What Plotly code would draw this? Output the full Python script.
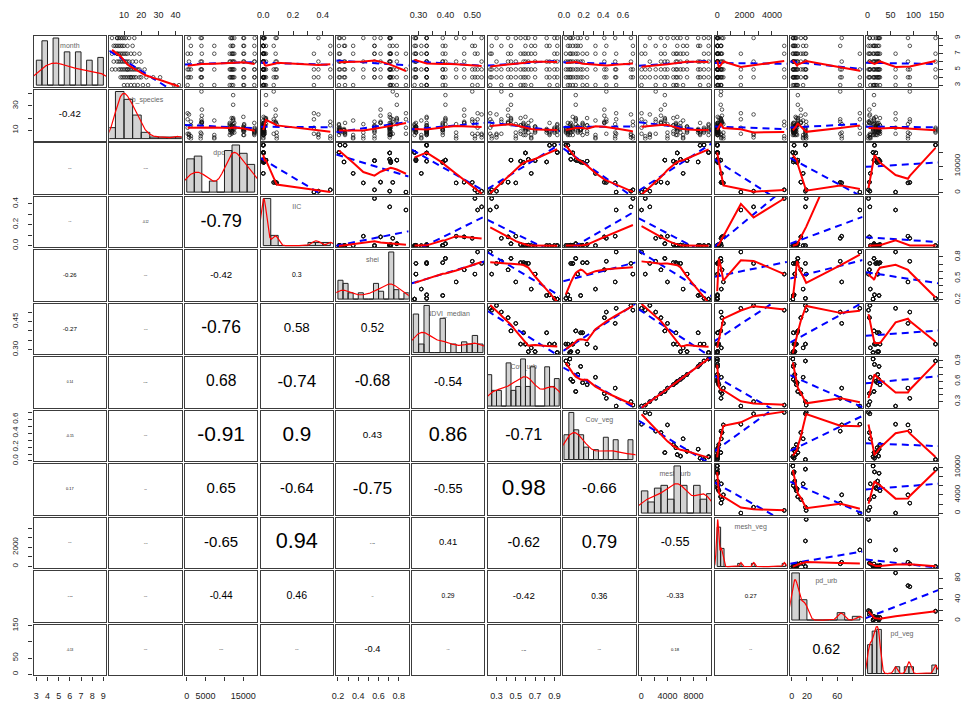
import numpy as np
import plotly.graph_objects as go

# ---------------- variables (panel order) ----------------
var_names = ["month", "nb_species", "dpop", "IIC", "shei", "NDVI_median",
             "Cov_urb", "Cov_veg", "mesh_urb", "mesh_veg", "pd_urb", "pd_veg"]

# ---------------- site descriptors (17 sites) ----------------
site_dpop = [18000, 17900, 15200, 15000, 12600, 12300, 12100, 11900, 11600,
             11400, 7300, 4000, 3900, 3700, 1100, 600, 240]
site_IIC = [0.0, 0.0, 0.0, 0.002, 0.004, 0.018, 0.0, 0.01, 0.0,
            0.003, 0.0, 0.083, 0.07, 0.09, 0.45, 0.37, 0.34]
site_shei = [0.22, 0.27, 0.21, 0.71, 0.71, 0.78, 0.56, 0.72, 0.26,
             0.72, 0.35, 0.62, 0.74, 0.45, 0.56, 0.71, 0.87]
site_NDVI = [0.33, 0.33, 0.285, 0.33, 0.29, 0.40, 0.29, 0.33, 0.39,
             0.39, 0.31, 0.47, 0.50, 0.44, 0.51, 0.535, 0.52]
site_cov_urb = [0.90, 0.85, 0.93, 0.60, 0.63, 0.45, 0.70, 0.55, 0.82,
                0.58, 0.66, 0.42, 0.35, 0.50, 0.25, 0.30, 0.235]
site_cov_veg = [0.02, 0.04, 0.06, 0.09, 0.07, 0.12, 0.14, 0.235, 0.17,
                0.19, 0.32, 0.41, 0.43, 0.52, 0.70, 0.68, 0.53]
site_mesh_urb = [9600, 9000, 10300, 5500, 6000, 3600, 7000, 4900, 8700,
                 5300, 6400, 3000, 2200, 4000, 600, 1300, 30]
site_mesh_veg = [0, 20, 5, 40, 30, 260, 15, 120, 25,
                 60, 300, 350, 280, 450, 4900, 2660, 1730]
site_pd_urb = [18, 3, 1.4, 5, 2, 8, 4, 6, 2,
               7, 15, 12, 64, 66, 19, 18, 90]
site_pd_veg = [148, 15, 12, 18, 24, 14, 22, 27, 25,
               21, 6, 4, 92, 88, 2, 5, 61]

# ---------------- observations: site id, month, species count ----------------
obs_site = [2, 3, 4, 6, 8, 10, 11, 13, 17,
            1, 2, 3, 4, 5, 6, 7, 8, 9, 10, 12, 13, 14, 15, 16, 17,
            1, 2, 3, 4, 5, 6, 7, 8, 9, 10, 11, 12, 13, 14, 15, 16, 17,
            1, 2, 3, 4, 5, 6, 7, 9, 10, 12, 14, 16,
            1, 3, 4, 5, 6, 7, 8, 10, 11, 12, 15, 17,
            2, 3, 4, 6, 7, 9, 11, 13, 15,
            1, 3, 4, 5, 7, 8, 9, 12, 14, 16]
obs_month = [3, 3, 3, 3, 3, 3, 3, 3, 3,
             4, 4, 4, 4, 4, 4, 4, 4, 4, 4, 4, 4, 4, 4, 4, 4,
             5, 5, 5, 5, 5, 5, 5, 5, 5, 5, 5, 5, 5, 5, 5, 5, 5,
             6, 6, 6, 6, 6, 6, 6, 6, 6, 6, 6, 6,
             7, 7, 7, 7, 7, 7, 7, 7, 7, 7, 7, 7,
             8, 8, 8, 8, 8, 8, 8, 8, 8,
             9, 9, 9, 9, 9, 9, 9, 9, 9, 9]
obs_nb = [16, 10, 21, 39, 14, 12, 18, 42, 24,
          11, 9, 14, 13, 16, 31, 12, 20, 10, 15, 27, 17, 8, 14, 23, 19,
          12, 8, 15, 10, 13, 18, 9, 14, 11, 16, 3, 22, 19, 5, 17, 7, 12,
          10, 7, 12, 9, 11, 20, 13, 8, 6, 17, 15, 4,
          8, 11, 6, 12, 19, 10, 9, 14, 6, 16, 3, 7,
          6, 9, 12, 15, 8, 10, 4, 7, 5,
          9, 6, 11, 8, 13, 7, 10, 16, 3, 6]

# ---------------- correlation labels (lower triangle, row by row) ----------------
cor_rows = [
    [],
    [-0.42],
    [0.07, -0.09],
    [0.06, -0.12, -0.79],
    [-0.26, 0.07, -0.42, 0.30],
    [-0.27, -0.10, -0.76, 0.58, 0.52],
    [0.14, 0.09, 0.68, -0.74, -0.68, -0.54],
    [-0.15, 0.07, -0.91, 0.90, 0.43, 0.86, -0.71],
    [0.17, 0.06, 0.65, -0.64, -0.75, -0.55, 0.98, -0.66],
    [0.07, -0.10, -0.65, 0.94, 0.11, 0.41, -0.62, 0.79, -0.55],
    [-0.11, 0.07, -0.44, 0.46, 0.02, 0.29, -0.42, 0.36, -0.33, 0.27],
    [-0.13, 0.07, 0.09, 0.07, -0.40, 0.06, 0.11, 0.07, 0.18, 0.06, 0.62],
]

# ---------------- axis ticks ----------------
tick_vals = {
    "month": [3, 4, 5, 6, 7, 8, 9],
    "nb_species": [10, 20, 30, 40],
    "dpop": [0, 5000, 10000, 15000],
    "IIC": [0.0, 0.1, 0.2, 0.3, 0.4],
    "shei": [0.2, 0.3, 0.4, 0.5, 0.6, 0.7, 0.8],
    "NDVI_median": [0.30, 0.35, 0.40, 0.45, 0.50, 0.55],
    "Cov_urb": [0.3, 0.4, 0.5, 0.6, 0.7, 0.8, 0.9],
    "Cov_veg": [0.0, 0.1, 0.2, 0.3, 0.4, 0.5, 0.6, 0.7],
    "mesh_urb": [0, 2000, 4000, 6000, 8000, 10000],
    "mesh_veg": [0, 1000, 2000, 3000, 4000],
    "pd_urb": [0, 20, 40, 60, 80],
    "pd_veg": [0, 50, 100, 150],
}
x_labels = {
    "month": [3, 4, 5, 6, 7, 8, 9], "nb_species": [10, 20, 30, 40],
    "dpop": [0, 5000, 15000], "IIC": [0.0, 0.2, 0.4],
    "shei": [0.2, 0.4, 0.6, 0.8], "NDVI_median": [0.30, 0.40, 0.50],
    "Cov_urb": [0.3, 0.5, 0.7, 0.9], "Cov_veg": [0.0, 0.2, 0.4, 0.6],
    "mesh_urb": [0, 4000, 8000], "mesh_veg": [0, 2000, 4000],
    "pd_urb": [0, 20, 60], "pd_veg": [0, 50, 100, 150],
}
y_labels = {
    "month": [3, 5, 7, 9], "nb_species": [10, 30],
    "dpop": [0, 10000], "IIC": [0.0, 0.2, 0.4],
    "shei": [0.2, 0.5, 0.8], "NDVI_median": [0.30, 0.45],
    "Cov_urb": [0.3, 0.6, 0.9], "Cov_veg": [0.0, 0.2, 0.4, 0.6],
    "mesh_urb": [0, 4000, 10000], "mesh_veg": [0, 2000],
    "pd_urb": [0, 40, 80], "pd_veg": [0, 50, 150],
}
tick_fmt = {"IIC": "{:.1f}", "shei": "{:.1f}", "NDVI_median": "{:.2f}",
            "Cov_urb": "{:.1f}", "Cov_veg": "{:.1f}"}
hist_width = {"month": 0.5, "nb_species": 5, "dpop": 2000, "IIC": 0.05,
              "shei": 0.05, "NDVI_median": 0.02, "Cov_urb": 0.05,
              "Cov_veg": 0.05, "mesh_urb": 1000, "mesh_veg": 250,
              "pd_urb": 10, "pd_veg": 10}

# ---------------- assemble observation table ----------------
site_tables = {
    "dpop": site_dpop, "IIC": site_IIC, "shei": site_shei,
    "NDVI_median": site_NDVI, "Cov_urb": site_cov_urb, "Cov_veg": site_cov_veg,
    "mesh_urb": site_mesh_urb, "mesh_veg": site_mesh_veg,
    "pd_urb": site_pd_urb, "pd_veg": site_pd_veg,
}
sidx = np.array(obs_site) - 1
data = {"month": np.array(obs_month, float), "nb_species": np.array(obs_nb, float)}
for nm, vals in site_tables.items():
    data[nm] = np.array(vals, float)[sidx]
cols = [data[n] for n in var_names]
NV = len(var_names)


def padded(v):
    lo, hi = float(v.min()), float(v.max())
    d = hi - lo
    return [lo - 0.04 * d, hi + 0.04 * d]


ranges = [padded(v) for v in cols]


def lowess(x, y, f=2 / 3, n_iter=3):
    o = np.argsort(x, kind="mergesort")
    x = np.asarray(x, float)[o]
    y = np.asarray(y, float)[o]
    n = len(x)
    ns = max(min(int(f * n + 1e-7), n), 2)
    rw = np.ones(n)
    ys = np.zeros(n)
    xr = x[-1] - x[0]
    for it in range(n_iter + 1):
        for i in range(n):
            d = np.abs(x - x[i])
            h = np.sort(d)[ns - 1]
            w = np.zeros(n)
            if h > 0:
                m = d <= 0.999 * h
                w[m] = np.where(d[m] <= 0.001 * h, 1.0, (1 - (d[m] / h) ** 3) ** 3)
            else:
                w[d <= 0] = 1.0
            w = w * rw
            a = w.sum()
            if a <= 0:
                ys[i] = y[i]
                continue
            w = w / a
            if h > 0:
                xm = (w * x).sum()
                b = x[i] - xm
                c = (w * (x - xm) ** 2).sum()
                if np.sqrt(c) > 0.001 * xr:
                    b /= c
                    w = w * (b * (x - xm) + 1.0)
            ys[i] = (w * y).sum()
        if it == n_iter:
            break
        res = y - ys
        cmad = 6 * np.median(np.abs(res))
        if cmad < 1e-7 * np.mean(np.abs(y)):
            break
        r = np.abs(res) / cmad
        rw = np.where(r <= 0.001, 1.0, np.where(r > 0.999, 0.0, (1 - r ** 2) ** 2))
    return x, ys


def kde(x):
    n = len(x)
    sd = x.std(ddof=1)
    q75, q25 = np.percentile(x, [75, 25])
    lo = min(sd, (q75 - q25) / 1.34)
    if lo <= 0:
        lo = sd if sd > 0 else 1.0
    bw = 0.9 * lo * n ** -0.2
    g = np.linspace(x.min() - 3 * bw, x.max() + 3 * bw, 512)
    dens = np.exp(-0.5 * ((g[:, None] - x[None, :]) / bw) ** 2).sum(1) / (n * bw * np.sqrt(2 * np.pi))
    return g, dens


def hist(x, w):
    b0 = np.floor(x.min() / w + 1e-9) * w
    b1 = np.ceil(x.max() / w - 1e-9) * w
    nb = int(round((b1 - b0) / w))
    breaks = np.round(b0 + w * np.arange(nb + 1), 10)
    idx = np.searchsorted(breaks, x - 1e-9 * w, side="left") - 1
    idx = np.clip(idx, 0, nb - 1)
    counts = np.bincount(idx, minlength=nb)
    return breaks, counts / (len(x) * w)


def fmt_tick(name, v):
    f = tick_fmt.get(name, "{:.0f}")
    return f.format(v)


def fmt_cor(r):
    s = f"{r:.2f}"
    if "." in s:
        s = s.rstrip("0").rstrip(".")
    return s


# ---------------- layout geometry ----------------
W, H = 969, 701
COL_L0, COL_PITCH, COL_W = 28.0, 76.6, 73.3
ROW_T0, ROW_PITCH, ROW_H = 26.7, 54.66, 52.0
BOX = "#3c3c3c"
FONT = "Liberation Sans, Arial, sans-serif"
XTICKFONT = dict(family=FONT, size=9, color="#222")
YTICKFONT = dict(family=FONT, size=8, color="#222")
STANDOFF = {"top": 9, "bottom": 8, "left": 7, "right": 7}

fig = go.Figure()
layout = dict(width=W, height=H, margin=dict(l=0, r=0, t=0, b=0),
              paper_bgcolor="white", plot_bgcolor="white", showlegend=False)


def aid(k):
    return "" if k == 1 else str(k)


for r in range(NV):
    for c in range(NV):
        k = r * NV + c + 1
        xs_, ys_ = "x" + aid(k), "y" + aid(k)
        left = COL_L0 + c * COL_PITCH
        top = ROW_T0 + r * ROW_PITCH
        xdom = [left / W, (left + COL_W) / W]
        ydom = [1 - (top + ROW_H) / H, 1 - top / H]
        xr = ranges[c]
        yr = ranges[r]

        if r == c:
            x = cols[c]
            breaks, dens = hist(x, hist_width[var_names[c]])
            g, kd = kde(x)
            M = max(dens.max(), kd.max())
            yr = [-0.04 * M, 1.04 * M]
            # variable name (drawn beneath the bars)
            fig.add_trace(go.Scatter(
                x=[(xr[0] + xr[1]) / 2], y=[yr[0] + 0.80 * (yr[1] - yr[0])],
                mode="text", text=[var_names[c]],
                textfont=dict(family=FONT, size=7, color="#666"),
                xaxis=xs_, yaxis=ys_, hoverinfo="skip"))
            px, py = [], []
            for i in range(len(dens)):
                a, b = breaks[i], breaks[i + 1]
                px += [a, a, b, b, a, None]
                py += [0, dens[i], dens[i], 0, 0, None]
            fig.add_trace(go.Scatter(
                x=px, y=py, mode="lines", fill="toself", fillcolor="#D3D3D3",
                line=dict(color="#222", width=1), xaxis=xs_, yaxis=ys_,
                hoverinfo="skip"))
            fig.add_trace(go.Scatter(
                x=g, y=kd, mode="lines", line=dict(color="#FF0000", width=1.2),
                xaxis=xs_, yaxis=ys_, hoverinfo="skip"))
        elif c > r:
            x, y = cols[c], cols[r]
            fig.add_trace(go.Scatter(
                x=x, y=y, mode="markers",
                marker=dict(symbol="circle-open", size=3.6, color="#111",
                            line=dict(width=0.7)),
                xaxis=xs_, yaxis=ys_, hoverinfo="skip"))
            slope, icpt = np.polyfit(x, y, 1)
            fig.add_trace(go.Scatter(
                x=[xr[0], xr[1]], y=[icpt + slope * xr[0], icpt + slope * xr[1]],
                mode="lines", line=dict(color="#0000FF", width=2, dash="7px,5px"),
                xaxis=xs_, yaxis=ys_, hoverinfo="skip"))
            lx, ly = lowess(x, y)
            fig.add_trace(go.Scatter(
                x=lx, y=ly, mode="lines", line=dict(color="#FF0000", width=2),
                xaxis=xs_, yaxis=ys_, hoverinfo="skip"))
        else:
            rv = cor_rows[r][c]
            fig.add_trace(go.Scatter(
                x=[(xr[0] + xr[1]) / 2], y=[(yr[0] + yr[1]) / 2],
                mode="text", text=[fmt_cor(rv)], cliponaxis=False,
                textfont=dict(family=FONT, size=max(1.0, 23.0 * abs(rv)), color="#000"),
                xaxis=xs_, yaxis=ys_, hoverinfo="skip"))

        xa = dict(domain=xdom, anchor=ys_, range=xr, showgrid=False,
                  zeroline=False, showline=True, mirror=True, linecolor=BOX,
                  linewidth=1.4, ticks="", showticklabels=False, fixedrange=True)
        ya = dict(domain=ydom, anchor=xs_, range=yr, showgrid=False,
                  zeroline=False, showline=True, mirror=True, linecolor=BOX,
                  linewidth=1.4, ticks="", showticklabels=False, fixedrange=True)

        xside = None
        if r == 0 and c % 2 == 1:
            xside = "top"
        if r == NV - 1 and c % 2 == 0:
            xside = "bottom"
        if xside:
            nm = var_names[c]
            tv = tick_vals[nm]
            shown = x_labels[nm]
            xa.update(side=xside, ticks="outside", ticklen=4, tickwidth=1,
                      tickcolor="#333", tickvals=tv, showticklabels=True,
                      ticktext=[fmt_tick(nm, v) if any(abs(v - s) < 1e-9 for s in shown) else "" for v in tv],
                      tickfont=XTICKFONT, tickangle=0,
                      ticklabelstandoff=STANDOFF[xside])
        yside = None
        if c == 0 and r % 2 == 1:
            yside = "left"
        if c == NV - 1 and r % 2 == 0:
            yside = "right"
        if yside:
            nm = var_names[r]
            tv = tick_vals[nm]
            shown = y_labels[nm]
            ya.update(side=yside, ticks="outside", ticklen=4, tickwidth=1,
                      tickcolor="#333", tickvals=tv, showticklabels=True,
                      ticktext=[fmt_tick(nm, v) if any(abs(v - s) < 1e-9 for s in shown) else "" for v in tv],
                      tickfont=YTICKFONT, tickangle=-90,
                      ticklabelstandoff=STANDOFF[yside])

        layout["xaxis" + aid(k)] = xa
        layout["yaxis" + aid(k)] = ya

fig.update_layout(**layout)
fig.write_html("out.html")
